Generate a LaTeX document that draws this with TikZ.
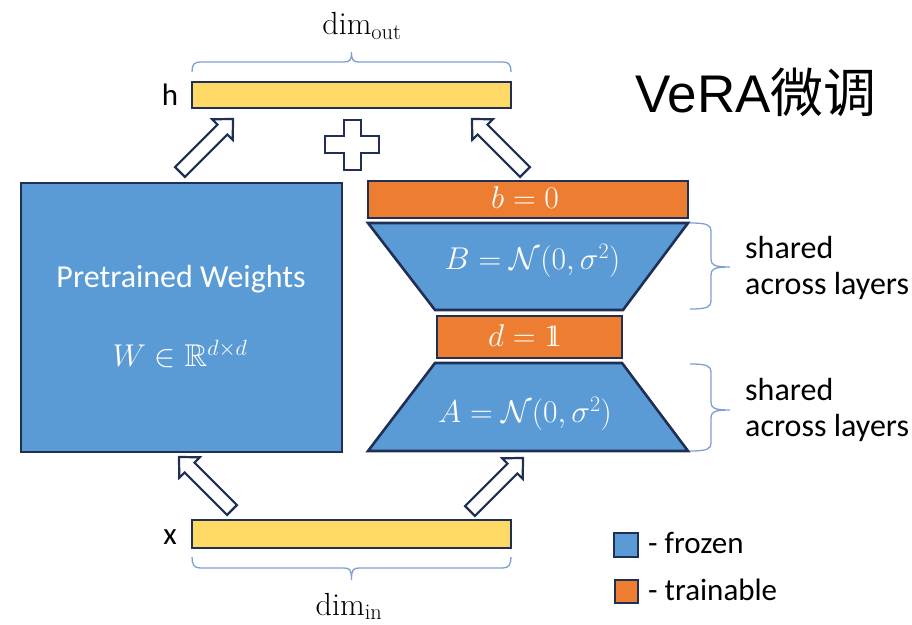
\RequirePackage{fix-cm}
\documentclass[tikz,border=0pt]{standalone}
\usepackage{amsmath,amssymb}
\usepackage{fontspec}
\setsansfont{Carlito}
\newfontfamily\cjk{Noto Sans CJK SC}
\newfontfamily\arialfont{Liberation Sans}
\newcommand{\onevec}{\mathrm{1\mkern-6.5mu1}}
\definecolor{navy}{HTML}{1F2F55}
\definecolor{frozen}{HTML}{5B9BD5}
\definecolor{trainable}{HTML}{ED7D31}
\definecolor{vecyellow}{HTML}{FFD966}
\definecolor{bracecol}{HTML}{7F9ED6}
\tikzset{
  edge/.style={draw=navy, line width=2.6pt, line join=miter},
  vecbar/.style={edge, fill=vecyellow, rectangle, minimum width=319pt, inner sep=0pt},
  block/.style={edge, rectangle, inner sep=0pt},
  sanslbl/.style={font=\sffamily\fontsize{31}{37}\selectfont, inner sep=0pt},
  biglbl/.style={font=\sffamily\fontsize{32}{37}\selectfont, inner sep=0pt},
  mathlbl/.style={text=white, font=\fontsize{31.5}{36}\selectfont, inner sep=0pt},
  dimlbl/.style={font=\fontsize{32}{36}\selectfont, inner sep=0pt},
  brace/.style={draw=bracecol, line width=1.3pt},
  hollow/.style={draw=navy, fill=white, line width=2.2pt, line join=miter},
  blockarrow/.pic={\draw[hollow] (0,-7) -- (60,-7) -- (60,-14.5) -- (75,0) -- (60,14.5) -- (60,7) -- (0,7) -- cycle;}
}
\begin{document}
\begin{tikzpicture}[x=1pt,y=1pt]
\useasboundingbox (0,0) rectangle (912,624);

% input and output vectors
\node[vecbar, minimum height=26pt] (h) at (351.5,529) {};
\node[vecbar, minimum height=28pt] (x) at (351.5,90) {};
\node[sanslbl, anchor=base] (hlbl) at (170,518) {h};
\node[sanslbl, anchor=base] (xlbl) at (170,80) {x};

% braces for the dimensions
\draw[brace] (192,552) .. controls (192,559) and (194,562) .. (200,562) -- (344,562)
  .. controls (350,562) and (351.5,564) .. (351.5,572)
  .. controls (351.5,564) and (353,562) .. (359,562) -- (503,562)
  .. controls (509,562) and (511,559) .. (511,552);
\draw[brace] (192,67) .. controls (192,60) and (194,56) .. (200,56) -- (344,56)
  .. controls (350,56) and (351.5,54) .. (351.5,44)
  .. controls (351.5,54) and (353,56) .. (359,56) -- (503,56)
  .. controls (509,56) and (511,60) .. (511,67);
\node[dimlbl, anchor=base] (dimout) at (362,589) {$\mathrm{dim}_{\mathrm{out}}$};
\node[dimlbl, anchor=base] (dimin) at (349,9) {$\mathrm{dim}_{\mathrm{in}}$};

% pretrained weights
\node[block, fill=frozen, minimum width=321pt, minimum height=269pt] (W) at (181.5,306.5) {};
\node[biglbl, text=white, anchor=base] (Wname) at (181,336) {Pretrained Weights};
\node[mathlbl, anchor=base] (Wdim) at (180,257) {$W \in \mathbb{R}^{d\times d}$};

% VeRA branch
\node[block, fill=trainable, minimum width=320pt, minimum height=37pt] (bvec) at (528,424.5) {};
\draw[edge, fill=frozen] (368,401) -- (688,401) -- (623,314) -- (435,314) -- cycle;
\node[block, fill=trainable, minimum width=185pt, minimum height=42pt] (dvec) at (529.5,287) {};
\draw[edge, fill=frozen] (435,261) -- (622,261) -- (688,173) -- (368,173) -- cycle;
\node[mathlbl, anchor=base] (blbl) at (525,415) {$b=0$};
\node[mathlbl, anchor=base] (Blbl) at (532.5,354) {$B=\mathcal{N}(0,\sigma^2)$};
\node[mathlbl, anchor=base] (dlbl) at (525,277) {$d=\onevec$};
\node[mathlbl, anchor=base] (Albl) at (525,201) {$A=\mathcal{N}(0,\sigma^2)$};

% shared-matrix braces
\draw[brace] (690,401) .. controls (707,401) and (711,399) .. (711,393) -- (711,365)
  .. controls (711,359) and (714,357) .. (730,357)
  .. controls (714,357) and (711,355) .. (711,349) -- (711,323)
  .. controls (711,317) and (707,315) .. (690,315);
\draw[brace] (690,260) .. controls (707,260) and (711,258) .. (711,252) -- (711,222)
  .. controls (711,216) and (714,214) .. (730,214)
  .. controls (714,214) and (711,212) .. (711,206) -- (711,181)
  .. controls (711,175) and (707,173) .. (690,173);
\node[biglbl, anchor=west, align=left] (shB) at (745,356) {shared\\[-1pt]across layers};
\node[biglbl, anchor=west, align=left] (shA) at (745,214) {shared\\[-1pt]across layers};

% hollow arrows
\coordinate (wOut) at (180,452);
\coordinate (vOut) at (525,452);
\coordinate (wIn) at (232,114);
\coordinate (vIn) at (470,113);
\pic[rotate=45] at (wOut) {blockarrow};
\pic[rotate=135] at (vOut) {blockarrow};
\pic[rotate=135] at (wIn) {blockarrow};
\pic[rotate=45] at (vIn) {blockarrow};

% plus sign
\draw[hollow, line width=2pt] (343.5,504) -- (360.5,504) -- (360.5,488) -- (379,488)
  -- (379,471) -- (360.5,471) -- (360.5,454) -- (343.5,454) -- (343.5,471)
  -- (325,471) -- (325,488) -- (343.5,488) -- cycle;

% title
\node[anchor=base west, inner sep=0pt, font=\arialfont\fontsize{53}{60}\selectfont] (title) at (635,511) {VeRA{\cjk 微调}};

% legend
\node[block, fill=frozen, line width=2pt, minimum size=24pt] (keyF) at (626,79) {};
\node[block, fill=trainable, line width=2pt, minimum size=23pt] (keyT) at (626,32.5) {};
\node[sanslbl, anchor=base west] (keyFtxt) at (648,71) {- frozen};
\node[sanslbl, anchor=base west] (keyTtxt) at (648,24) {- trainable};
\end{tikzpicture}
\end{document}
